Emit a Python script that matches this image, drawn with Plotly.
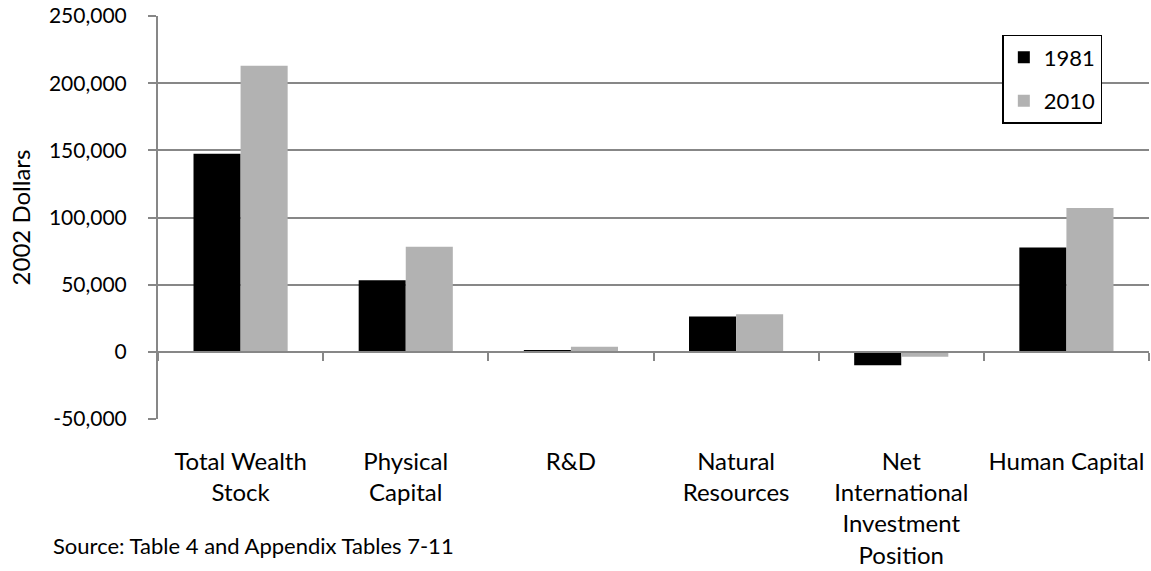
import plotly.graph_objects as go

categories = ['Total Wealth<br>Stock', 'Physical<br>Capital', 'R&D', 'Natural<br>Resources',
              'Net<br>International<br>Investment<br>Position', 'Human Capital']
values_1981 = [147400, 53300, 1100, 26300, -9900, 77600]
values_2010 = [213000, 78300, 3700, 28000, -3700, 107000]
y_tickvals = [-50000, 0, 50000, 100000, 150000, 200000, 250000]
y_ticktext = ['-50,000', '0', '50,000', '100,000', '150,000', '200,000', '250,000']

GRID = '#878787'
FONT = 'Lato'

fig = go.Figure()

fig.add_trace(go.Bar(
    x=categories, y=values_1981, name='1981',
    marker=dict(color='#000000', line=dict(width=0)),
    legendgroup='a'
))
fig.add_trace(go.Bar(
    x=categories, y=values_2010, name='2010',
    marker=dict(color='#b2b2b2', line=dict(width=0)),
    legendgroup='b'
))

# invisible helper so the zero-line axis knows the categories
fig.add_trace(go.Scatter(
    x=categories, y=[0] * len(categories), mode='none',
    xaxis='x2', showlegend=False, hoverinfo='skip'
))

fig.update_layout(
    width=1151,
    height=571,
    margin=dict(l=158, r=2, t=15, b=151),
    paper_bgcolor='white',
    plot_bgcolor='white',
    font=dict(family=FONT, size=24, color='black'),
    barmode='group',
    bargap=0.43,
    bargroupgap=0,
    showlegend=True,
    legend=dict(
        x=0.852, y=0.953, xanchor='left', yanchor='top',
        bordercolor='black', borderwidth=1.5, bgcolor='white',
        font=dict(size=22), tracegroupgap=12
    ),
    xaxis=dict(
        type='category', categoryorder='array', categoryarray=categories,
        range=[-0.5, len(categories) - 0.5],
        showline=False, showgrid=False, ticks='',
        tickfont=dict(size=24), ticklabelstandoff=26
    ),
    xaxis2=dict(
        type='category', categoryorder='array', categoryarray=categories,
        range=[-0.5, len(categories) - 0.5],
        overlaying='x', anchor='free', position=1 / 6,
        showline=True, linecolor=GRID, linewidth=2,
        ticks='outside', tickson='boundaries', ticklen=8, tickwidth=2, tickcolor=GRID,
        showticklabels=False, showgrid=False
    ),
    yaxis=dict(
        range=[-50000, 250000],
        tickvals=y_tickvals, ticktext=y_ticktext,
        showline=True, linecolor=GRID, linewidth=2,
        ticks='outside', ticklen=8, tickwidth=2, tickcolor=GRID,
        showgrid=True, gridcolor=GRID, gridwidth=2,
        zeroline=False,
        tickfont=dict(size=21), ticklabelstandoff=17,
        title=dict(text='2002 Dollars', font=dict(size=24), standoff=12)
    ),
    annotations=[dict(
        text='Source: Table 4 and Appendix Tables 7-11',
        xref='paper', yref='paper', x=-0.108, y=-0.314,
        xanchor='left', yanchor='middle', showarrow=False,
        font=dict(size=22)
    )]
)

fig.write_html("out.html", config={'displayModeBar': False},
               post_script="document.body.style.margin='0';")
